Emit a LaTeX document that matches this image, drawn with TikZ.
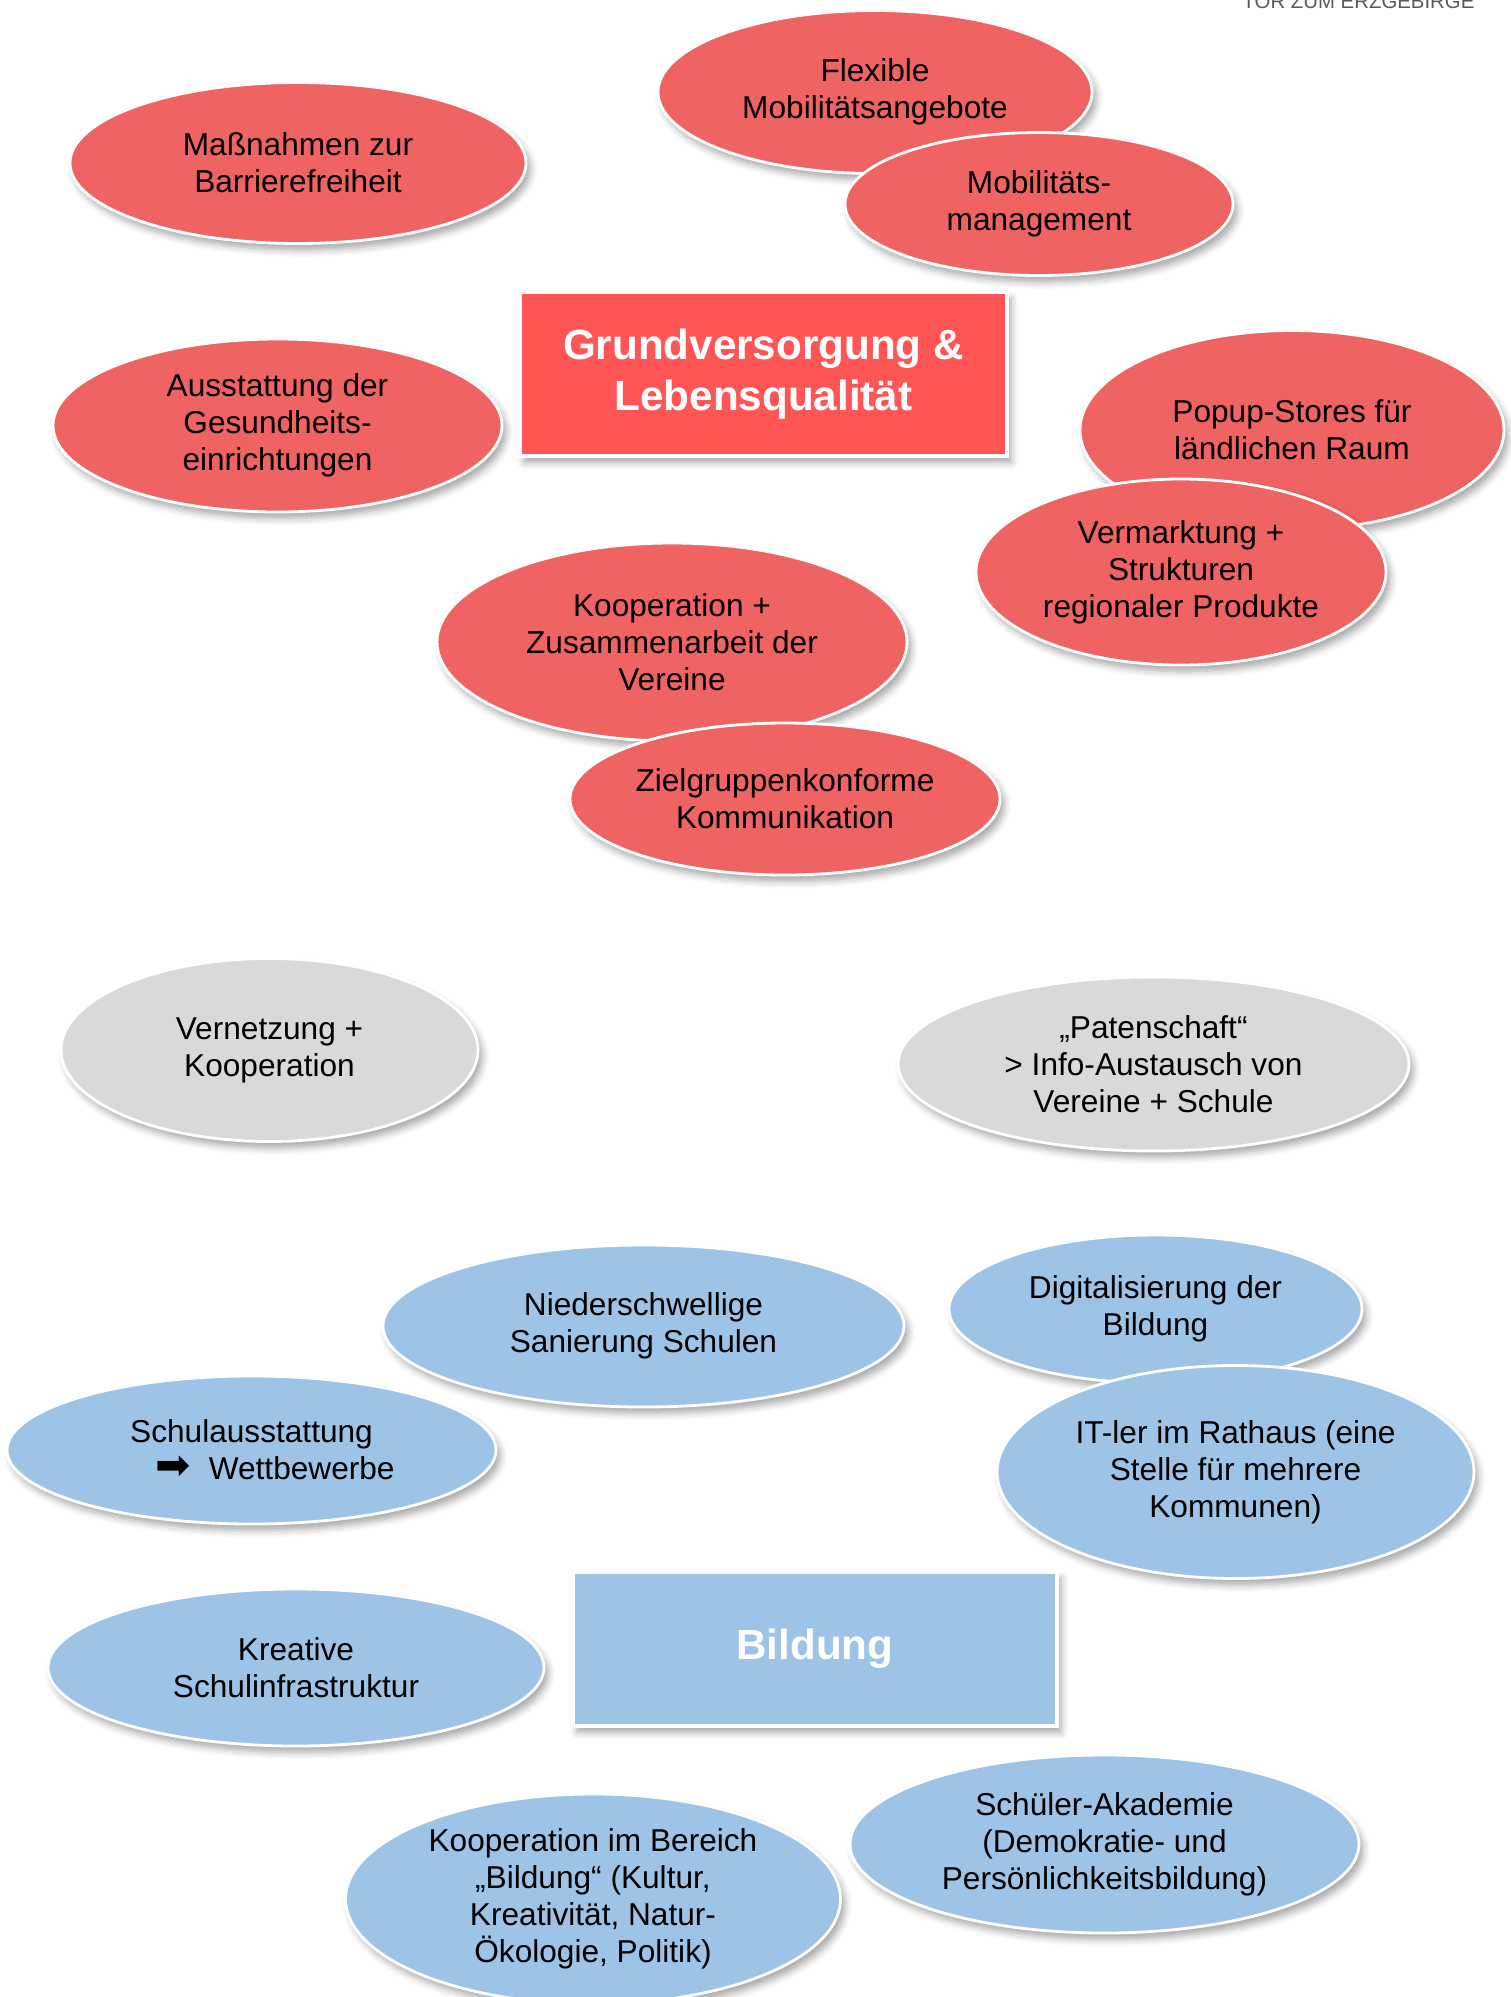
\documentclass[tikz,border=0pt]{standalone}
\usepackage{fontspec}
\setmainfont{Liberation Sans}
\newfontfamily\pfeilfont{DejaVu Sans}
\usetikzlibrary{shapes.geometric,shadows.blur}

\definecolor{rotell}{RGB}{240,99,99}
\definecolor{rotbox}{RGB}{255,85,85}
\definecolor{blauell}{RGB}{157,195,230}
\definecolor{grauell}{RGB}{217,217,217}
\definecolor{kopfgrau}{RGB}{89,89,89}

\begin{document}
\begin{tikzpicture}[
  schatten/.style={blur shadow={shadow xshift=1.2pt, shadow yshift=-1.8pt,
      shadow blur radius=2pt, shadow opacity=35}},
  idee/.style={ellipse, draw=white, line width=0.8pt, inner sep=0pt,
      align=center, font=\fontsize{9}{10.5}\selectfont, schatten},
  rot/.style={idee, fill=rotell},
  blau/.style={idee, fill=blauell},
  grau/.style={idee, fill=grauell},
  thema/.style={rectangle, draw=white, line width=1pt, inner sep=0pt,
      align=center, text=white, font=\fontsize{12}{14.5}\selectfont\bfseries, schatten}]

  \useasboundingbox (0,0) rectangle (15.11,-19.97);

  \node[anchor=base, text=kopfgrau, font=\fontsize{5.8}{7}\selectfont] (kopf) at (13.585,-0.08) {TOR ZUM ERZGEBIRGE};

  % Grundversorgung & Lebensqualitaet
  \node[rot, minimum width=4.56cm, minimum height=1.61cm] (barriere) at (2.98,-1.63) {Maßnahmen zur\\Barrierefreiheit};
  \node[rot, minimum width=4.34cm, minimum height=1.63cm] (flexibel) at (8.75,-0.92) {Flexible\\Mobilitätsangebote};
  \node[rot, minimum width=3.88cm, minimum height=1.43cm] (mobman) at (10.39,-2.04) {Mobilitäts-\\management};
  \node[thema, fill=rotbox, minimum width=4.87cm, minimum height=1.64cm] (grund) at (7.635,-3.74) {Grundversorgung \&\\Lebensqualität};
  \node[rot, minimum width=4.49cm, minimum height=1.73cm] (gesund) at (2.775,-4.255) {Ausstattung der\\Gesundheits-\\einrichtungen};
  \node[rot, minimum width=4.24cm, minimum height=1.99cm] (popup) at (12.92,-4.30) {Popup-Stores für\\ländlichen Raum};
  \node[rot, minimum width=4.10cm, minimum height=1.86cm] (vermarkt) at (11.81,-5.72) {Vermarktung +\\Strukturen\\regionaler Produkte};
  \node[rot, minimum width=4.70cm, minimum height=1.98cm] (vereine) at (6.72,-6.42) {Kooperation +\\Zusammenarbeit der\\Vereine};
  \node[rot, minimum width=4.30cm, minimum height=1.52cm] (zielgr) at (7.85,-7.99) {Zielgruppenkonforme\\Kommunikation};

  % verbindende Ideen
  \node[grau, minimum width=4.17cm, minimum height=1.83cm] (vernetz) at (2.695,-10.50) {Vernetzung +\\Kooperation};
  \node[grau, minimum width=5.11cm, minimum height=1.74cm] (paten) at (11.535,-10.64) {„Patenschaft“\\> Info-Austausch von\\Vereine + Schule};

  % Bildung
  \node[blau, minimum width=5.21cm, minimum height=1.62cm] (sanier) at (6.435,-13.26) {Niederschwellige\\Sanierung Schulen};
  \node[blau, minimum width=4.13cm, minimum height=1.48cm] (digital) at (11.555,-13.09) {Digitalisierung der\\Bildung};
  \node[blau, minimum width=4.89cm, minimum height=1.48cm] (ausstatt) at (2.515,-14.50) {Schulausstattung\\\hspace*{1.5em}{\pfeilfont\fontsize{12}{10.5}\selectfont ➡}\ \ Wettbewerbe};
  \node[blau, minimum width=4.77cm, minimum height=2.13cm] (itler) at (12.355,-14.72) {IT-ler im Rathaus (eine\\Stelle für mehrere\\Kommunen)};
  \node[thema, fill=blauell, minimum width=4.84cm, minimum height=1.54cm] (bildung) at (8.15,-16.49) {Bildung};
  \node[blau, minimum width=4.96cm, minimum height=1.57cm] (kreativ) at (2.96,-16.675) {Kreative\\Schulinfrastruktur};
  \node[blau, minimum width=4.95cm, minimum height=2.10cm] (bereich) at (5.93,-18.99) {Kooperation im Bereich\\„Bildung“ (Kultur,\\Kreativität, Natur-\\Ökologie, Politik)};
  \node[blau, minimum width=5.09cm, minimum height=1.78cm] (akademie) at (11.045,-18.44) {Schüler-Akademie\\(Demokratie- und\\Persönlichkeitsbildung)};
\end{tikzpicture}
\end{document}
